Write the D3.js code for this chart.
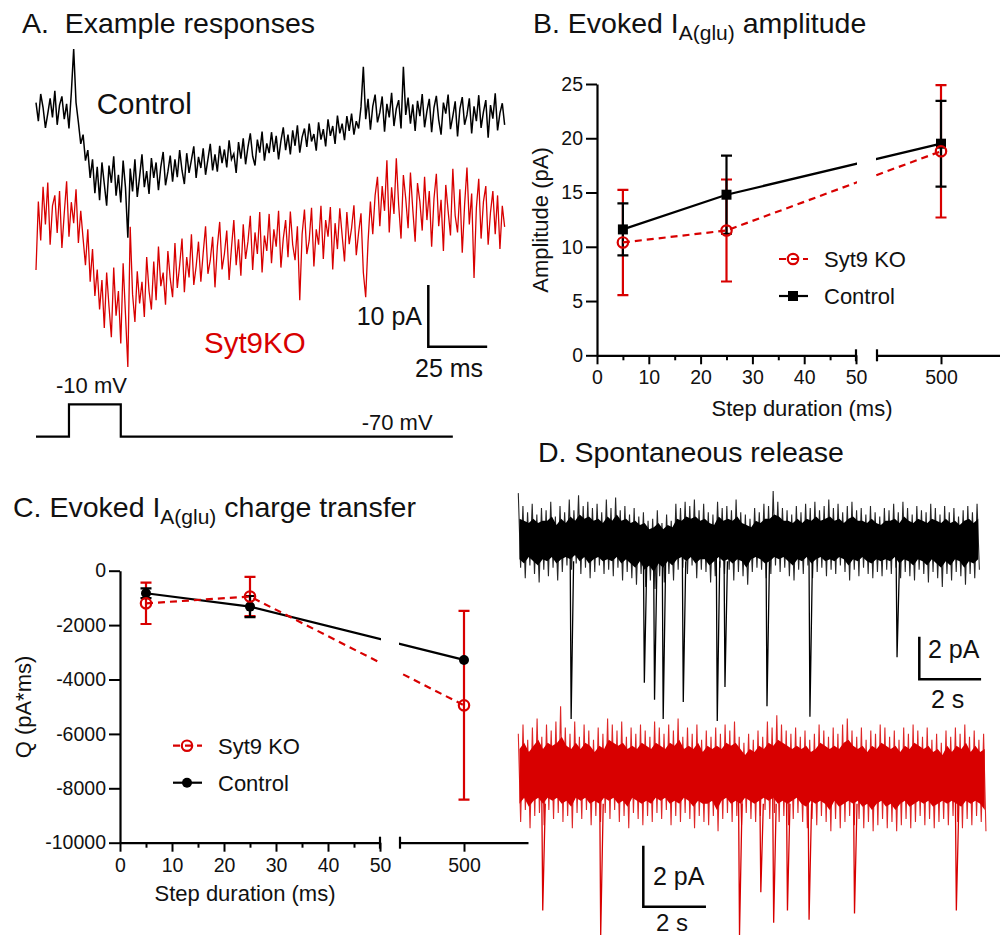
<!DOCTYPE html>
<html>
<head>
<meta charset="utf-8">
<script src="https://cdn.jsdelivr.net/npm/d3@7"></script>
<style>
  body { margin: 0; background: #fff; }
  svg text { font-family: "Liberation Sans", Arial, sans-serif; fill: #111; }
</style>
</head>
<body>
<svg id="fig" width="1000" height="938"></svg>
<script>
// ---- B / C : summary data ----
const durations = [5, 25, 500];
const ampCtrl = [11.6, 14.8, 19.5];
const ampCtrlErr = [2.4, 3.6, 3.95];
const ampKO = [10.4, 11.5, 18.8];
const ampKOErr = [4.85, 4.7, 6.1];
const qCtrl = [-830, -1320, -3280];
const qCtrlErr = [180, 390, 0];
const qKO = [-1200, -950, -4950];
const qKOErr = [760, 720, 3470];

const ampTicks = [0, 5, 10, 15, 20, 25];
const qTicks = [0, -2000, -4000, -6000, -8000, -10000];
const durTicks = [0, 10, 20, 30, 40, 50];
const durMinor = [5, 15, 25, 35, 45];
const durBreakTicks = [500];

// ---- A : example responses, one sample per ms (pA) ----
const aStepMs = 1;
const ctrlTrace = [
  1.2,-1.8,2.6,0.4,-2.9,-0.6,1.9,-1.2,3.1,-2.4,
  0.8,2.2,-1.5,1.0,-3.0,2.8,9.9,1.2,-2.0,-5.5,
  -4.0,-8.2,-6.5,-11.0,-8.0,-13.5,-9.2,-14.6,-8.5,-12.0,
  -15.5,-9.0,-11.8,-7.5,-13.9,-10.5,-15.0,-8.2,-12.6,-20.7,
  -9.5,-13.2,-8.0,-14.1,-10.8,-7.2,-12.5,-9.9,-13.6,-7.8,
  -11.0,-8.5,-13.0,-9.2,-6.8,-12.2,-10.0,-7.4,-11.6,-8.0,
  -10.9,-6.5,-9.8,-12.0,-7.0,-10.2,-8.1,-5.9,-11.0,-7.6,
  -9.4,-6.2,-10.5,-8.0,-5.5,-9.8,-7.2,-10.0,-5.8,-8.6,
  -6.4,-9.3,-4.9,-8.0,-7.1,-10.2,-5.2,-7.9,-4.6,-8.8,
  -6.0,-3.8,-7.5,-9.0,-4.8,-6.9,-3.5,-8.2,-5.4,-7.0,
  -3.6,-6.8,-4.2,-8.0,-5.0,-2.8,-6.5,-4.0,-7.2,-3.3,
  -5.8,-2.5,-6.9,-4.4,-3.0,-6.0,-2.2,-5.1,-3.9,-6.6,
  -2.0,-4.8,-3.1,-5.9,-1.5,-4.2,-2.6,-5.5,-0.9,-3.8,
  -2.2,-4.9,-1.0,-3.4,-0.6,-4.0,-1.8,-3.0,0.5,7.0,
  -1.5,1.8,-3.2,0.6,2.5,-2.0,-0.4,2.2,-3.5,1.0,
  -1.2,2.8,-2.6,0.2,1.6,-3.0,7.0,-0.8,2.0,-2.2,
  0.9,-3.4,1.5,-1.0,2.6,-2.8,-0.2,1.8,-3.6,0.4,
  2.3,-1.6,-4.0,1.2,-0.6,2.5,-3.1,-1.0,1.4,-4.3,
  0.2,2.1,-2.4,-0.8,1.9,-3.8,0.6,-1.8,2.4,-2.9,
  -0.3,1.6,-4.5,0.8,-1.4,2.7,-3.3,-0.5,1.1,-2.4];
const koTrace = [
  -8.6,2.5,-3.8,4.9,-1.2,5.6,-4.5,1.8,3.5,-2.6,
  4.2,-5.0,0.6,5.8,-3.2,2.4,-1.0,4.5,-4.2,1.0,
  -3.5,-7.8,-2.0,-10.5,-5.2,-12.8,-8.5,-15.0,-10.2,-18.0,
  -9.0,-14.5,-19.5,-8.2,-16.0,-12.0,-20.5,-7.5,-15.8,-24.3,
  -1.6,-12.5,-17.0,-8.8,-14.0,-10.5,-16.2,-6.5,-12.0,-15.0,
  -7.2,-13.5,-4.8,-11.2,-9.0,-14.2,-5.5,-10.0,-13.0,-4.2,
  -11.5,-7.8,-3.5,-12.2,-6.5,-9.8,-2.8,-11.0,-8.0,-4.0,
  -10.5,-5.8,-1.5,-9.2,-7.0,-3.2,-11.4,-4.8,-0.8,-8.5,
  -6.0,-2.2,-10.2,-5.0,-0.5,-7.8,-3.6,-9.5,-1.2,-6.8,
  -4.0,0.2,-8.6,-2.5,-6.0,0.8,-9.0,-3.0,-5.5,0.5,
  -7.5,-2.0,-4.8,1.0,-8.2,-3.5,-0.5,-6.5,0.9,-4.5,
  -7.0,-1.5,-13.5,-2.8,1.2,-6.0,-3.8,1.5,-8.0,-2.0,
  -4.5,1.8,-6.8,-0.5,-3.2,1.6,-8.5,-1.0,-5.2,1.4,
  -3.0,-7.2,0.8,-4.4,-1.8,1.9,-6.2,-2.5,0.6,-9.0,
  -13.0,-4.0,2.5,-2.8,3.5,6.5,-1.5,5.0,1.0,9.2,
  -2.5,4.8,0.5,9.5,2.0,-3.5,6.8,3.0,-1.8,7.2,
  1.2,-4.0,5.5,2.5,-2.2,6.5,-0.5,4.2,-4.8,3.0,
  7.0,-1.5,2.8,-5.5,5.2,1.0,-3.0,7.8,0.2,-2.5,
  4.5,-5.8,2.0,8.0,-1.2,3.8,-9.9,1.5,6.2,-3.5,
  2.5,5.0,-4.5,0.8,4.2,-2.8,3.5,-5.2,1.8,-1.6];
const stepT = [0, 14, 14, 36, 36, 177];
const stepV = [-70, -70, -10, -10, -70, -70];

// ---- D : spontaneous release, 15 s, per 0.15 s bin (pA) ----
const dBinS = 0.15;
// noise extremes
const spCtrlHi = [2.2,1.6,1.3,1.7,1.2,1.5,1.4,1.8,1.1,1.6, 1.3,1.9,1.4,2.1,1.6,1.8,1.5,1.7,1.3,1.9,
  1.5,2.0,1.4,1.6,1.2,1.5,1.1,1.3,0.9,1.0, 1.4,0.8,1.2,0.9,1.7,1.5,1.8,1.6,1.9,1.4,
  1.7,1.3,1.2,1.8,1.5,1.6,1.4,1.9,1.3,1.2, 1.0,1.5,1.3,1.7,1.6,2.3,1.8,1.5,1.4,1.2,
  1.6,1.3,1.7,1.5,1.8,1.4,1.6,1.9,1.5,1.7, 1.3,1.6,1.8,1.4,1.5,1.2,1.6,1.3,1.1,1.5,
  1.4,1.7,1.3,1.8,1.5,1.2,1.6,1.4,1.3,1.7, 1.5,1.2,1.6,1.3,1.5,1.1,1.4,1.6,1.3,1.7];
const spCtrlLo = [-1.3,-1.8,-1.2,-1.6,-2.0,-1.4,-1.7,-1.3,-1.9,-1.5, -1.2,-1.4,-1.1,-1.6,-1.3,-1.8,-1.5,-1.2,-1.6,-1.4,
  -1.7,-1.3,-1.9,-1.5,-1.8,-2.1,-1.6,-2.2,-1.9,-2.3, -1.7,-2.0,-1.6,-1.9,-1.4,-1.3,-1.6,-1.2,-1.8,-1.4,
  -1.5,-2.0,-1.7,-1.3,-1.6,-1.4,-1.9,-1.5,-1.7,-2.1, -1.5,-1.3,-1.4,-1.8,-1.6,-1.2,-1.5,-1.3,-1.7,-1.9,
  -1.4,-1.6,-1.2,-1.8,-1.5,-1.3,-1.7,-1.4,-1.6,-1.2, -1.5,-1.9,-1.4,-1.7,-1.3,-1.6,-1.8,-1.5,-1.7,-1.4,
  -1.6,-1.3,-1.8,-1.5,-1.7,-1.9,-1.4,-1.6,-2.0,-1.5, -1.8,-2.2,-1.6,-1.9,-1.5,-1.7,-2.1,-1.6,-1.8,-1.4];
// dense core of the band
const spCtrlCoreHi = [1.0,0.9,0.8,1.0,0.8,0.9,0.9,1.1,0.7,1.0, 0.8,1.1,0.9,1.2,1.0,1.1,0.9,1.0,0.8,1.1,
  0.9,1.2,0.9,1.0,0.8,0.9,0.7,0.8,0.5,0.6, 0.8,0.5,0.7,0.6,1.0,0.9,1.1,1.0,1.1,0.9,
  1.0,0.8,0.7,1.1,0.9,1.0,0.9,1.1,0.8,0.7, 0.6,0.9,0.8,1.0,1.0,1.2,1.1,0.9,0.9,0.8,
  1.0,0.8,1.0,0.9,1.1,0.9,1.0,1.1,0.9,1.0, 0.8,1.0,1.1,0.9,0.9,0.8,1.0,0.8,0.7,0.9,
  0.9,1.0,0.8,1.1,0.9,0.8,1.0,0.9,0.8,1.0, 0.9,0.8,1.0,0.8,0.9,0.7,0.9,1.0,0.8,1.0];
const spCtrlCoreLo = [-0.9,-1.1,-0.8,-1.0,-1.2,-0.9,-1.0,-0.8,-1.1,-0.9, -0.8,-0.9,-0.7,-1.0,-0.8,-1.1,-0.9,-0.8,-1.0,-0.9,
  -1.0,-0.8,-1.1,-0.9,-1.1,-1.3,-1.0,-1.4,-1.2,-1.5, -1.1,-1.3,-1.0,-1.2,-0.9,-0.8,-1.0,-0.8,-1.1,-0.9,
  -0.9,-1.2,-1.0,-0.8,-1.0,-0.9,-1.1,-0.9,-1.0,-1.3, -0.9,-0.8,-0.9,-1.1,-1.0,-0.8,-0.9,-0.8,-1.0,-1.2,
  -0.9,-1.0,-0.8,-1.1,-0.9,-0.8,-1.0,-0.9,-1.0,-0.8, -0.9,-1.2,-0.9,-1.0,-0.8,-1.0,-1.1,-0.9,-1.0,-0.9,
  -1.0,-0.8,-1.1,-0.9,-1.0,-1.2,-0.9,-1.0,-1.2,-0.9, -1.1,-1.3,-1.0,-1.2,-0.9,-1.0,-1.3,-1.0,-1.1,-0.9];
const spKOHi = [1.3,1.6,1.1,1.5,1.8,1.2,1.6,1.4,1.7,2.2, 1.5,1.3,1.7,1.2,1.6,1.4,1.1,1.5,1.3,1.8,
  1.6,1.4,1.7,1.2,1.5,1.3,1.6,1.4,1.2,1.7, 1.5,1.3,1.6,1.4,1.8,1.2,1.5,1.3,1.6,1.1,
  1.4,1.2,1.5,1.3,1.6,1.4,1.7,1.2,1.0,1.3, 1.1,1.4,1.2,1.7,1.5,1.9,1.6,1.4,1.3,1.5,
  1.2,1.4,1.1,1.3,1.6,1.4,1.2,1.5,1.3,1.6, 1.8,1.4,1.2,1.5,1.1,1.4,1.3,1.6,1.5,1.2,
  1.4,1.1,1.5,1.3,1.6,1.4,1.2,1.5,1.1,1.3, 1.0,1.4,1.2,1.5,1.3,1.6,1.2,1.4,1.1,1.3];
const spKOLo = [-1.6,-1.2,-1.8,-1.4,-1.3,-1.7,-1.2,-1.5,-1.3,-1.6, -1.4,-1.8,-1.3,-1.5,-1.2,-1.7,-1.4,-1.6,-1.3,-1.5,
  -1.2,-1.6,-1.4,-1.8,-1.3,-1.5,-1.7,-1.4,-1.6,-1.3, -1.5,-1.2,-1.7,-1.4,-1.6,-1.3,-1.5,-1.8,-1.4,-1.6,
  -1.7,-1.4,-1.9,-1.5,-1.3,-1.6,-1.4,-1.7,-1.3,-1.5, -1.6,-1.4,-1.2,-1.5,-1.3,-1.6,-1.4,-1.7,-1.5,-1.3,
  -1.6,-1.8,-1.5,-1.7,-1.4,-1.6,-1.9,-1.5,-1.8,-1.6, -1.4,-1.7,-1.5,-1.8,-1.6,-1.9,-1.7,-1.5,-1.8,-1.6,
  -1.9,-1.7,-1.5,-1.8,-1.6,-1.4,-1.7,-1.5,-1.8,-1.6, -1.5,-1.7,-1.4,-1.6,-1.8,-1.5,-1.7,-1.4,-1.6,-1.9];
const spKOCoreHi = [0.8,1.0,0.7,0.9,1.1,0.8,1.0,0.9,1.0,1.2, 0.9,0.8,1.0,0.8,1.0,0.9,0.7,0.9,0.8,1.1,
  1.0,0.9,1.0,0.8,0.9,0.8,1.0,0.9,0.8,1.0, 0.9,0.8,1.0,0.9,1.1,0.8,0.9,0.8,1.0,0.7,
  0.9,0.8,0.9,0.8,1.0,0.9,1.0,0.8,0.6,0.8, 0.7,0.9,0.8,1.0,0.9,1.1,1.0,0.9,0.8,0.9,
  0.8,0.9,0.7,0.8,1.0,0.9,0.8,0.9,0.8,1.0, 1.1,0.9,0.8,0.9,0.7,0.9,0.8,1.0,0.9,0.8,
  0.9,0.7,0.9,0.8,1.0,0.9,0.8,0.9,0.7,0.8, 0.6,0.9,0.7,0.9,0.8,1.0,0.7,0.9,0.7,0.8];
const spKOCoreLo = [-1.0,-0.8,-1.1,-0.9,-0.8,-1.0,-0.8,-0.9,-0.8,-1.0, -0.9,-1.1,-0.8,-0.9,-0.8,-1.0,-0.9,-1.0,-0.8,-0.9,
  -0.8,-1.0,-0.9,-1.1,-0.8,-0.9,-1.0,-0.9,-1.0,-0.8, -0.9,-0.8,-1.0,-0.9,-1.0,-0.8,-0.9,-1.1,-0.9,-1.0,
  -1.0,-0.9,-1.2,-0.9,-0.8,-1.0,-0.9,-1.0,-0.8,-0.9, -1.0,-0.9,-0.8,-0.9,-0.8,-1.0,-0.9,-1.0,-0.9,-0.8,
  -1.0,-1.1,-0.9,-1.0,-0.9,-1.0,-1.2,-0.9,-1.1,-1.0, -0.9,-1.0,-0.9,-1.1,-1.0,-1.2,-1.0,-0.9,-1.1,-1.0,
  -1.2,-1.0,-0.9,-1.1,-1.0,-0.9,-1.0,-0.9,-1.1,-1.0, -0.9,-1.0,-0.9,-1.0,-1.1,-0.9,-1.0,-0.9,-1.0,-1.2];
const spCtrlEventT = [1.71, 4.08, 4.41, 4.69, 5.34, 6.44, 6.69, 8.05, 9.44, 12.26];
const spCtrlEventAmp = [-8.4, -6.7, -7.5, -8.4, -7.6, -8.5, -6.9, -7.8, -8.3, -5.5];
const spKOEventT = [0.78, 2.63, 7.06, 7.74, 8.15, 8.59, 9.28, 10.73, 13.98];
const spKOEventAmp = [-4.5, -5.3, -5.3, -3.9, -4.9, -4.5, -4.8, -4.6, -4.5];

const RED = "#d80000";
const svg = d3.select("#fig");

// 見出し (下付き文字つき)
function title(x, y, pre, sub, post) {
  const t = svg.append("text").attr("x", x).attr("y", y).attr("font-size", 28.5).style("white-space", "pre");
  t.append("tspan").text(pre);
  if (sub) {
    t.append("tspan").attr("font-size", 21).attr("dy", 7).text(sub);
    t.append("tspan").attr("dy", -7).text(post);
  }
}

function label(x, y, str, size, color, anchor) {
  return svg.append("text").attr("x", x).attr("y", y).attr("font-size", size)
    .attr("text-anchor", anchor || "start").style("fill", color || "#111").text(str);
}

function zigzag(hi, lo, dt) {
  const pts = [];
  hi.forEach((h, i) => {
    pts.push([i * dt, h]);
    pts.push([i * dt + dt / 2, lo[i]]);
  });
  return pts;
}

function scaleBar(x0, y0, w, h, color) {
  svg.append("path")
    .attr("d", `M${x0},${y0 - h}V${y0}H${x0 + w}`)
    .attr("fill", "none").attr("stroke", color || "#000").attr("stroke-width", 2.5);
}

// ---------- A ----------
title(22, 33, "A.  Example responses");
const xA = d3.scaleLinear().domain([0, 200]).range([36, 507]);
const yCtrlA = d3.scaleLinear().domain([0, 10]).range([110, 48.3]);
const yKOA = d3.scaleLinear().domain([0, 10]).range([217, 155.3]);
svg.append("path")
  .attr("d", d3.line().x((d, i) => xA(i * aStepMs)).y(d => yKOA(d))(koTrace))
  .attr("fill", "none").attr("stroke", RED).attr("stroke-width", 1.3);
svg.append("path")
  .attr("d", d3.line().x((d, i) => xA(i * aStepMs)).y(d => yCtrlA(d))(ctrlTrace))
  .attr("fill", "none").attr("stroke", "#000").attr("stroke-width", 1.5);
label(96.7, 114, "Control", 29.5);
label(204, 353.3, "Syt9KO", 29.5, RED);
scaleBar(428.3, 346.7, xA(25) - xA(0), yCtrlA(0) - yCtrlA(10));
label(356.7, 325, "10 pA", 25);
label(415, 376.7, "25 ms", 25);

const yStep = d3.scaleLinear().domain([-70, -10]).range([436.7, 404.3]);
svg.append("path")
  .attr("d", d3.line().x((d, i) => xA(stepT[i])).y(d => yStep(d))(stepV))
  .attr("fill", "none").attr("stroke", "#000").attr("stroke-width", 2.2);
label(56, 392.7, "-10 mV", 22);
label(361.7, 430, "-70 mV", 22);

// ---------- B / C ----------
function xyPanel(o) {
  const g = svg.append("g");
  const x = d => d <= 50 ? o.x1(d) : o.x2(d);
  const y0 = o.y.range()[0];
  const cp = svg.append("clipPath").attr("id", o.id);
  cp.append("rect").attr("x", 0).attr("y", 0).attr("width", o.x1.range()[1] + 1).attr("height", 938);
  cp.append("rect").attr("x", o.x2.range()[0] - 1).attr("y", 0).attr("width", 300).attr("height", 938);

  const style = sel => {
    sel.select(".domain").attr("stroke", "#000").attr("stroke-width", 2.2);
    sel.selectAll(".tick line").attr("stroke", "#000").attr("stroke-width", 2);
    sel.selectAll(".tick text").attr("font-size", 19.5).attr("font-family", null).style("fill", "#111");
  };

  g.append("g").attr("transform", `translate(${o.x1(0)},0)`)
    .call(d3.axisLeft(o.y).tickValues(o.yTicks).tickSize(11).tickSizeOuter(0).tickPadding(3).tickFormat(d => String(d)))
    .call(style);
  g.append("g").attr("transform", `translate(0,${y0})`)
    .call(d3.axisBottom(o.x1).tickValues(durTicks).tickSize(9).tickSizeOuter(0).tickPadding(6))
    .call(style);
  g.append("g").attr("transform", `translate(0,${y0})`)
    .call(d3.axisBottom(o.x1).tickValues(durMinor).tickSize(5).tickFormat(""))
    .call(style).select(".domain").remove();
  g.append("g").attr("transform", `translate(0,${y0})`)
    .call(d3.axisBottom(o.x2).tickValues(durBreakTicks).tickSize(9).tickSizeOuter(0).tickPadding(6))
    .call(style);
  [o.x1.range()[1], o.x2.range()[0]].forEach(bx => {
    g.append("line").attr("x1", bx).attr("x2", bx).attr("y1", y0 - 6).attr("y2", y0 + 6)
      .attr("stroke", "#000").attr("stroke-width", 2.2);
  });

  const err = (vals, errs, color) => {
    vals.forEach((v, i) => {
      if (!errs[i]) return;
      const cx = x(durations[i]);
      const top = o.y(v + errs[i]), bot = o.y(v - errs[i]);
      g.append("path").attr("d", `M${cx},${top}V${bot}M${cx - 5.5},${top}H${cx + 5.5}M${cx - 5.5},${bot}H${cx + 5.5}`)
        .attr("fill", "none").attr("stroke", color).attr("stroke-width", 2.2);
    });
  };
  err(o.ko, o.koErr, RED);
  err(o.ctrl, o.ctrlErr, "#000");

  const line = d3.line().x((d, i) => x(durations[i])).y(d => o.y(d));
  g.append("path").attr("d", line(o.ctrl)).attr("clip-path", `url(#${o.id})`)
    .attr("fill", "none").attr("stroke", "#000").attr("stroke-width", 2.2);
  g.append("path").attr("d", line(o.ko)).attr("clip-path", `url(#${o.id})`)
    .attr("fill", "none").attr("stroke", RED).attr("stroke-width", 2.2).attr("stroke-dasharray", "7,5");

  const ctrlMark = (sel, cx, cy) => {
    if (o.square) {
      sel.append("rect").attr("x", cx - 5).attr("y", cy - 5).attr("width", 10).attr("height", 10).attr("fill", "#000");
    } else {
      sel.append("circle").attr("cx", cx).attr("cy", cy).attr("r", 5).attr("fill", "#000");
    }
  };
  const koMark = (sel, cx, cy) => {
    sel.append("circle").attr("cx", cx).attr("cy", cy).attr("r", 5.2)
      .attr("fill", "none").attr("stroke", RED).attr("stroke-width", 2.2);
  };
  o.ctrl.forEach((v, i) => ctrlMark(g, x(durations[i]), o.y(v)));
  o.ko.forEach((v, i) => koMark(g, x(durations[i]), o.y(v)));

  // legend
  const lg = o.legend;
  g.append("line").attr("x1", lg.x).attr("x2", lg.x + 29).attr("y1", lg.y).attr("y2", lg.y)
    .attr("stroke", RED).attr("stroke-width", 2.2).attr("stroke-dasharray", "7,5");
  koMark(g, lg.x + 14, lg.y);
  label(lg.x + 45, lg.y + 8, "Syt9 KO", 22);
  g.append("line").attr("x1", lg.x).attr("x2", lg.x + 29).attr("y1", lg.y + lg.dy).attr("y2", lg.y + lg.dy)
    .attr("stroke", "#000").attr("stroke-width", 2.2);
  ctrlMark(g, lg.x + 14, lg.y + lg.dy);
  label(lg.x + 45, lg.y + lg.dy + 8, "Control", 22);

  label(o.xTitle[0], o.xTitle[1], "Step duration (ms)", 22, null, "middle");
  svg.append("text").attr("transform", `translate(${o.yTitle[0]},${o.yTitle[1]}) rotate(-90)`)
    .attr("text-anchor", "middle").attr("font-size", 22).text(o.yTitle[2]);
}

title(533, 33, "B. Evoked I", "A(glu)", " amplitude");
xyPanel({
  id: "clipB",
  x1: d3.scaleLinear().domain([0, 50]).range([597, 856]),
  x2: d3.scaleLinear().domain([438, 562]).range([877, 1005]),
  y: d3.scaleLinear().domain([0, 25]).range([355.3, 84]),
  yTicks: ampTicks,
  ctrl: ampCtrl, ctrlErr: ampCtrlErr, ko: ampKO, koErr: ampKOErr,
  square: true,
  legend: { x: 779, y: 259, dy: 37 },
  xTitle: [802, 416],
  yTitle: [548, 220, "Amplitude (pA)"]
});

title(13, 517, "C. Evoked I", "A(glu)", " charge transfer");
xyPanel({
  id: "clipC",
  x1: d3.scaleLinear().domain([0, 50]).range([120, 380]),
  x2: d3.scaleLinear().domain([438, 562]).range([400, 528]),
  y: d3.scaleLinear().domain([-10000, 0]).range([842.7, 570.7]),
  yTicks: qTicks,
  ctrl: qCtrl, ctrlErr: qCtrlErr, ko: qKO, koErr: qKOErr,
  square: false,
  legend: { x: 173, y: 745.7, dy: 37 },
  xTitle: [245, 901],
  yTitle: [31, 707, "Q (pA*ms)"]
});

// ---------- D ----------
title(538, 462, "D. Spontaneous release");
function spTrace(xs, ys, hi, lo, coreHi, coreLo, evT, evA, color) {
  const line = d3.line().x(d => xs(d[0])).y(d => ys(d[1]));
  const core = d3.area().x((d, i) => xs(i * dBinS + dBinS / 4)).y0((d, i) => ys(coreLo[i])).y1(d => ys(d));
  svg.append("path").attr("d", line(zigzag(hi, lo, dBinS)))
    .attr("fill", "none").attr("stroke", color).attr("stroke-width", 1.1).attr("stroke-opacity", 0.85);
  svg.append("path").attr("d", core(coreHi)).attr("fill", color);
  evT.forEach((t, i) => {
    svg.append("path").attr("d", line([[t - 0.03, -0.8], [t, evA[i]], [t + 0.08, -1.0]]))
      .attr("fill", "none").attr("stroke", color).attr("stroke-width", 1.3);
  });
}
const xDk = d3.scaleLinear().domain([0, 15]).range([518.3, 981.7]);
const yDk = d3.scaleLinear().domain([0, 2]).range([540, 497.4]);
const xDr = d3.scaleLinear().domain([0, 15]).range([518.3, 988.3]);
const yDr = d3.scaleLinear().domain([0, 2]).range([773.3, 712.3]);
spTrace(xDk, yDk, spCtrlHi, spCtrlLo, spCtrlCoreHi, spCtrlCoreLo, spCtrlEventT, spCtrlEventAmp, "#000");
spTrace(xDr, yDr, spKOHi, spKOLo, spKOCoreHi, spKOCoreLo, spKOEventT, spKOEventAmp, RED);

scaleBar(919.3, 679.3, xDk(2) - xDk(0), yDk(0) - yDk(2));
label(928, 658, "2 pA", 25);
label(931, 708, "2 s", 25);
scaleBar(643.3, 906.7, xDr(2) - xDr(0), yDr(0) - yDr(2));
label(653, 885, "2 pA", 25);
label(656, 931, "2 s", 24);
</script>
</body>
</html>
